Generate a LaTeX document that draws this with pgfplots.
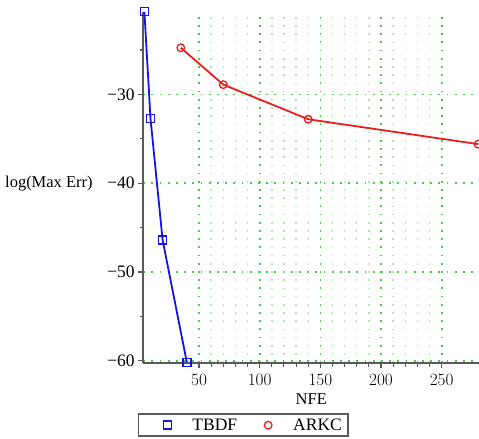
\documentclass[border=0pt]{standalone}
\usepackage{fontspec}
\setmainfont{Liberation Serif}
\usepackage{pgfplots}
\pgfplotsset{compat=1.18}

\definecolor{axgray}{RGB}{90,90,90}
\definecolor{majgrid}{RGB}{70,205,70}
\definecolor{mingrid}{RGB}{180,228,180}
\definecolor{tbdf}{RGB}{20,20,230}
\definecolor{arkc}{RGB}{235,30,30}

\begin{document}
\begin{tikzpicture}[font=\fontsize{16.5bp}{20bp}\selectfont]
  \begin{axis}[
    name=ax,
    scale only axis,
    width=336.1bp, height=351.2bp,
    xmin=4, xmax=281,
    ymin=-60.25, ymax=-20.7,
    axis lines=left,
    axis line style={-, draw=axgray, line width=1.4bp},
    tick align=outside,
    major tick length=5bp, minor tick length=3.5bp,
    every tick/.style={axgray, line width=1.1bp},
    tick label style={font=\fontsize{17.5bp}{20bp}\selectfont},
    xticklabel style={yshift=-3bp},
    xtick={50,100,150,200,250},
    minor x tick num=4,
    ytick={-60,-50,-40,-30},
    yticklabels={−60,−50,−40,−30},
    minor ytick={-55,-45,-35,-25},
    xmajorgrids, ymajorgrids, xminorgrids,
    major grid style={majgrid, line width=1.7bp, dash pattern=on 1.8bp off 6.4bp},
    minor grid style={mingrid, line width=1.4bp, dash pattern=on 1.6bp off 6.6bp},
    clip=false,
    xlabel={NFE},
    ylabel={log(Max Err)},
    xlabel style={at={(rel axis cs:0.5,0)}, anchor=center, yshift=-36bp},
    ylabel style={rotate=-90, at={(rel axis cs:0,0.511)}, anchor=east, xshift=-47bp},
    legend columns=2,
    legend cell align=left,
    legend style={at={(0,0)}, anchor=north west, xshift=-5.5bp, yshift=-50.3bp,
      draw=axgray, line width=1.6bp, inner xsep=2bp, inner ysep=2.5bp,
      font=\fontsize{17.5bp}{20bp}\selectfont,
      nodes={inner xsep=4bp, inner ysep=2bp}},
    legend image code/.code={
      \path[draw=none, fill=none] (0bp,0bp) -- (48bp,0bp);
      \draw[#1] plot[only marks] coordinates {(27bp,0bp)};
    },
  ]
    \addplot[tbdf, line width=1.8bp, mark=square, mark size=4bp,
      mark options={line width=1.3bp, solid}]
      coordinates {(5,-20.7) (10,-32.7) (20,-46.4) (40,-60.2)};
    \addlegendentry{TBDF}
    \addplot[arkc, line width=1.8bp, mark=o, mark size=3.8bp,
      mark options={line width=1.3bp, solid}]
      coordinates {(35,-24.75) (70,-28.9) (140,-32.8) (280,-35.6)};
    \addlegendentry{ARKC}
  \end{axis}
  \pgfresetboundingbox
  \path[use as bounding box] ([xshift=-143.2bp,yshift=-76bp]ax.south west)
    rectangle ([xshift=335.8bp,yshift=363bp]ax.south west);
\end{tikzpicture}
\end{document}
